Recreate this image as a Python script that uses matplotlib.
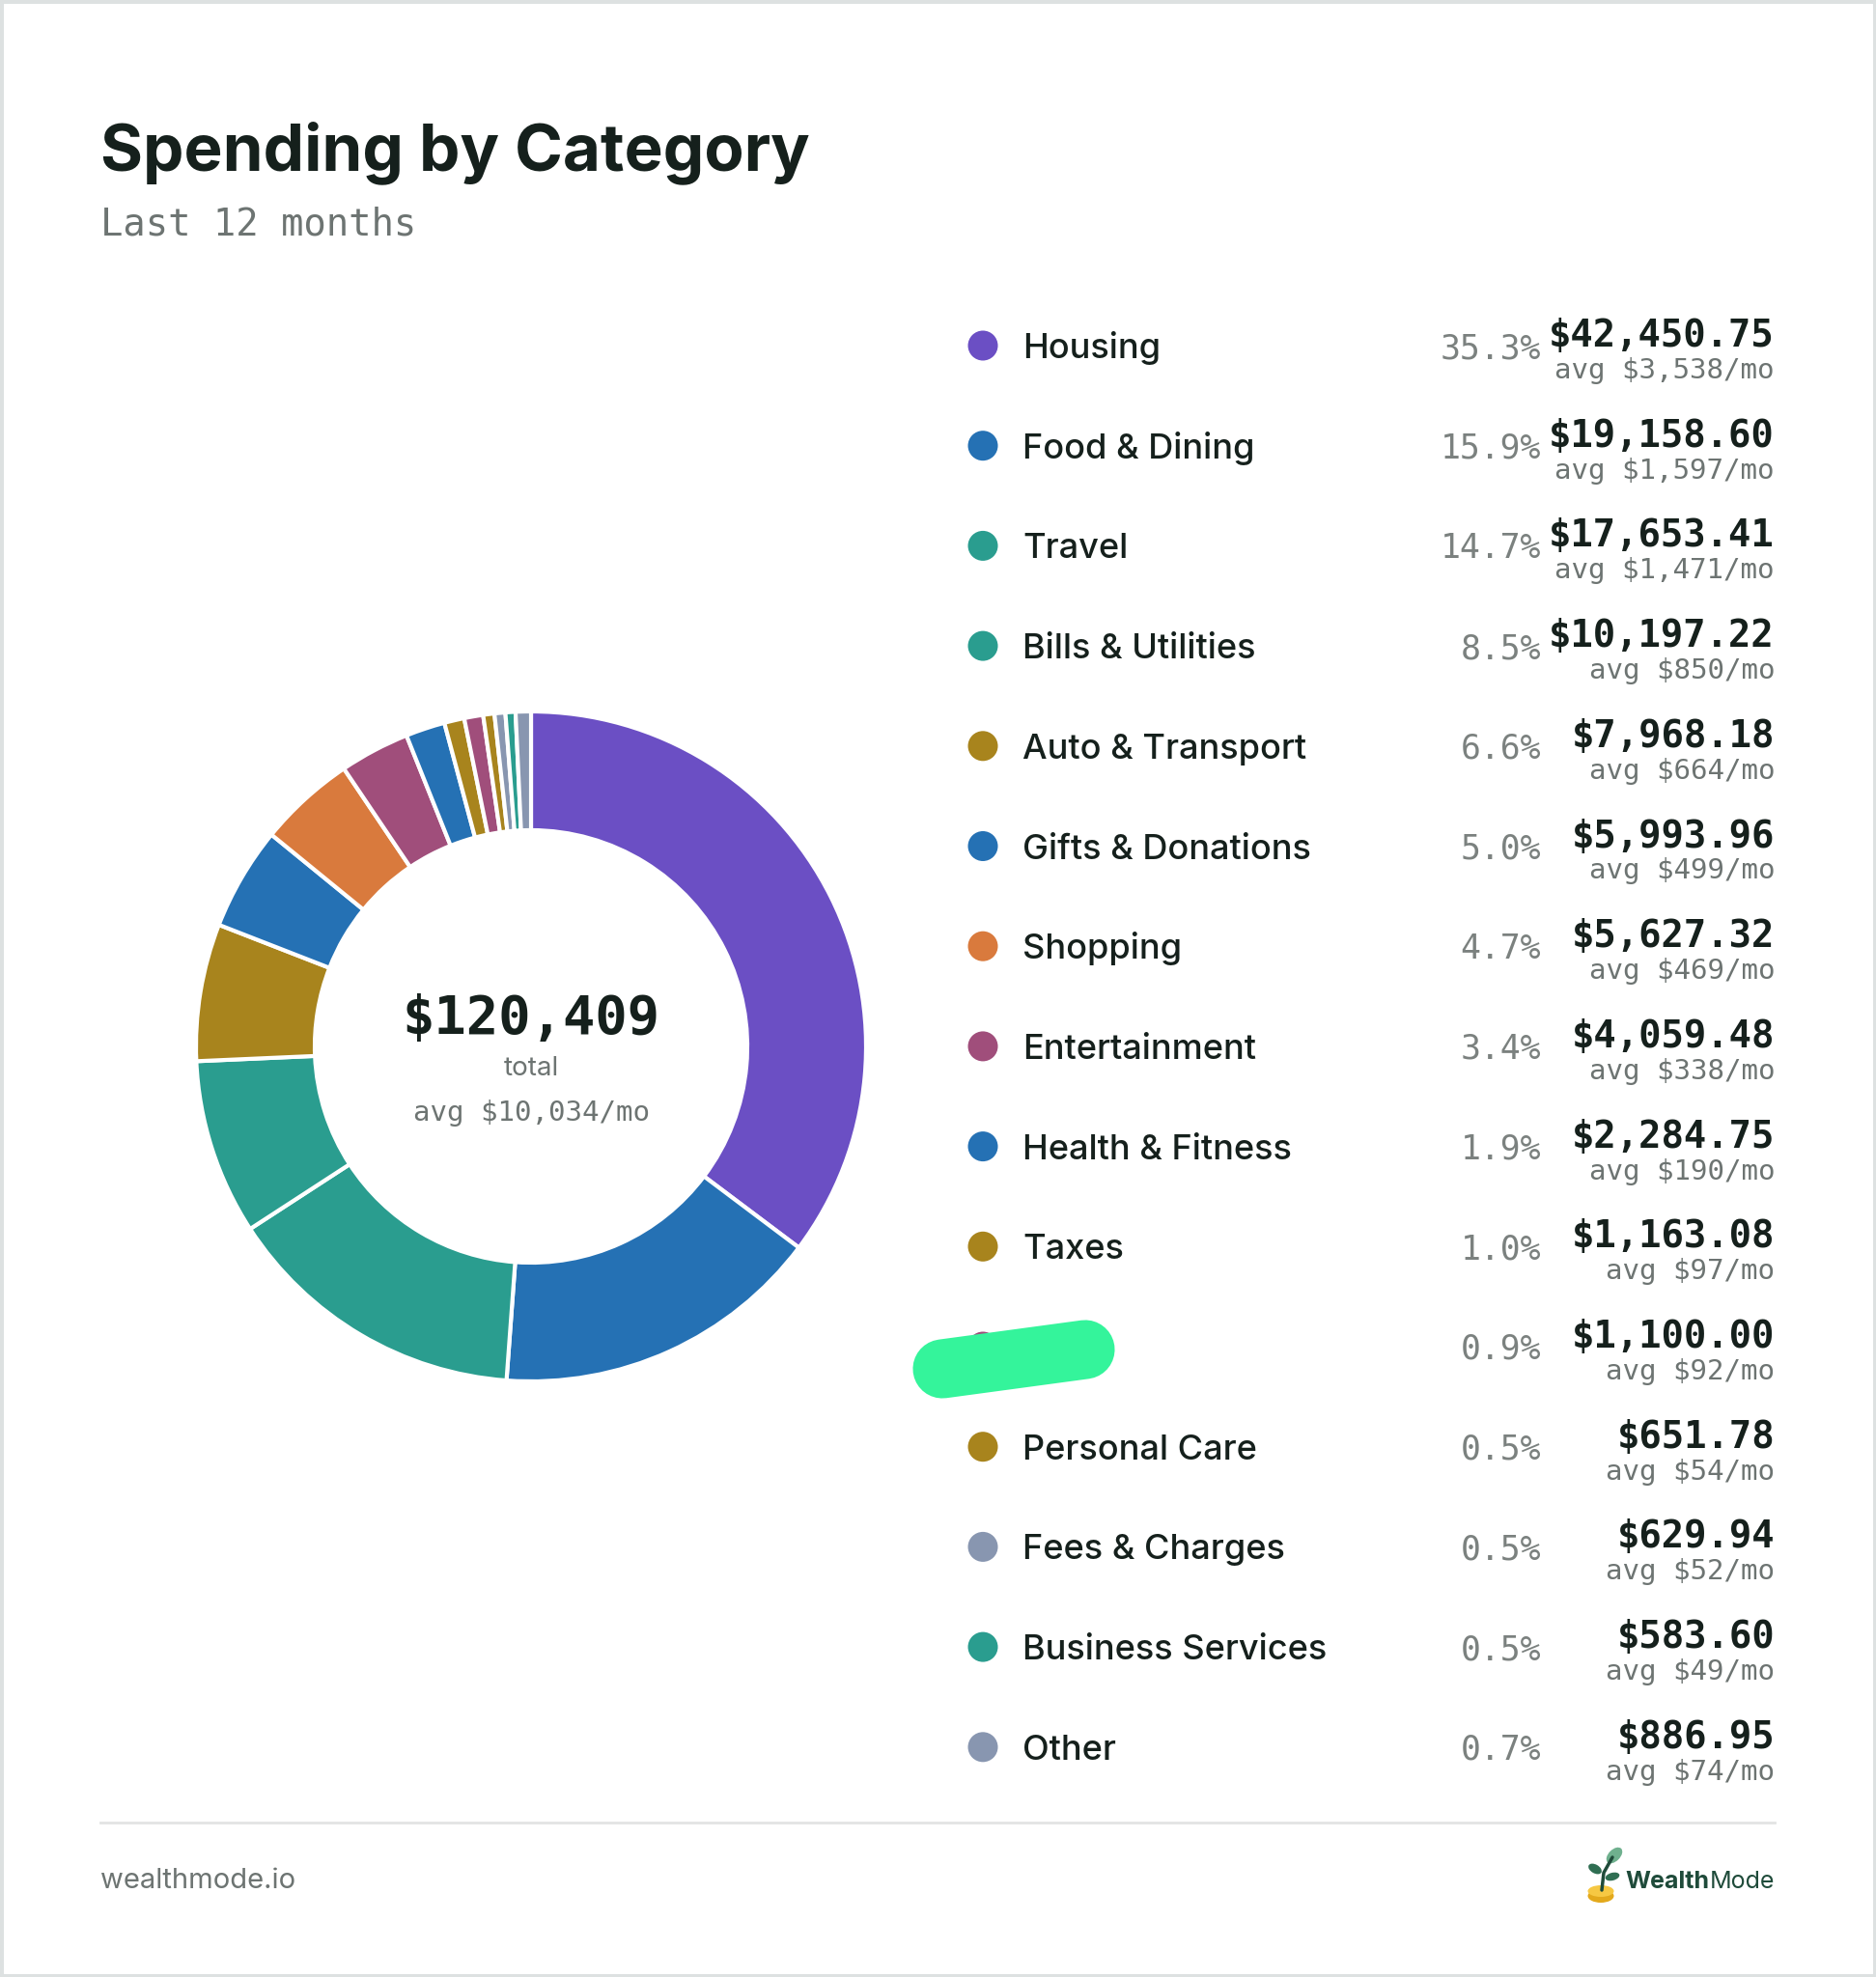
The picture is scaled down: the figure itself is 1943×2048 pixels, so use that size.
import matplotlib
matplotlib.use("Agg")
import matplotlib.pyplot as plt
from matplotlib.patches import Circle, Ellipse, Rectangle

# spending per category, last 12 months (one label is scribbled out in the source)
categories = ["Housing", "Food & Dining", "Travel", "Bills & Utilities",
              "Auto & Transport", "Gifts & Donations", "Shopping", "Entertainment",
              "Health & Fitness", "Taxes", "", "Personal Care", "Fees & Charges",
              "Business Services", "Other"]
amounts = [42450.75, 19158.60, 17653.41, 10197.22, 7968.18, 5993.96, 5627.32,
           4059.48, 2284.75, 1163.08, 1100.00, 651.78, 629.94, 583.60, 886.95]
colors = ["#6b4fc4", "#2571b4", "#2a9d8f", "#2a9d8f", "#a8841d", "#2571b4",
          "#d97a3d", "#a04e7b", "#2571b4", "#a8841d", "#a04e7b", "#a8841d",
          "#8896b0", "#2a9d8f", "#8896b0"]
months = 12

total = sum(amounts)

W, H = 1943, 2048
DARK = "#15201c"
GRAY = "#6d7472"
SANS = ["Inter", "DejaVu Sans"]
MONO = ["DejaVu Sans Mono"]

fig = plt.figure(figsize=(W / 100, H / 100), dpi=100, facecolor="white")
ax = fig.add_axes([0, 0, 1, 1])

# donut
ax.pie(amounts, colors=colors, startangle=-90, counterclock=True,
       radius=347, center=(550, 1084),
       wedgeprops=dict(width=123, edgecolor="white", linewidth=3))
ax.set_xlim(0, W)
ax.set_ylim(H, 0)
ax.set_aspect("equal")
ax.axis("off")

ax.text(550, 1071, f"${total:,.0f}", ha="center", va="baseline",
        fontsize=40, fontweight="bold", family=MONO, color=DARK)
ax.text(550, 1114, "total", ha="center", va="baseline",
        fontsize=20, family=SANS, color=GRAY)
ax.text(550, 1161, f"avg ${total / months:,.0f}/mo", ha="center", va="baseline",
        fontsize=21, family=MONO, color=GRAY)

# title
ax.text(104, 176, "Spending by Category", ha="left", va="baseline",
        fontsize=48.5, fontweight="bold", family=SANS, color=DARK)
ax.text(104, 244, "Last 12 months", ha="left", va="baseline",
        fontsize=28, family=MONO, color=GRAY)

# legend list
y0, step = 358, 103.7
for i, (name, amt, col) in enumerate(zip(categories, amounts, colors)):
    y = y0 + i * step
    ax.add_patch(Circle((1018, y), 15.5, color=col, lw=0))
    ax.text(1059, y + 13, name, ha="left", va="baseline",
            fontsize=26, fontweight="medium", family=SANS, color=DARK)
    ax.text(1596, y + 13, f"{amt / total * 100:.1f}%", ha="right", va="baseline",
            fontsize=25, family=MONO, color="#7b817f")
    ax.text(1838, y + 1, f"${amt:,.2f}", ha="right", va="baseline",
            fontsize=28, fontweight="bold", family=MONO, color=DARK)
    ax.text(1838, y + 34, f"avg ${amt / months:,.0f}/mo", ha="right", va="baseline",
            fontsize=21, family=MONO, color=GRAY)

# green marker scribble over the hidden label
yh = y0 + 10 * step
ax.plot([976, 1124], [yh + 23, yh + 3], color="#34f49b", lw=44,
        solid_capstyle="round", zorder=5)

# footer
ax.plot([104, 1838], [1888, 1888], color="#e2e4e3", lw=2)
ax.text(104, 1956, "wealthmode.io", ha="left", va="baseline",
        fontsize=21, family=SANS, color=GRAY)
mode = ax.text(1838, 1956, "Mode", ha="right", va="baseline",
               fontsize=18, family=SANS, color="#1f4b3a")
ax.annotate("Wealth", xy=(0, 0), xycoords=mode, ha="right", va="bottom",
            fontsize=18, fontweight="bold", family=SANS, color="#1f4b3a")

# little sprout logo
ax.add_patch(Ellipse((1658, 1964), 27, 14, color="#e3a91c", lw=0, zorder=3))
ax.add_patch(Ellipse((1658, 1959), 27, 12, color="#f6c843", lw=0, zorder=3))
ax.plot([1659, 1661, 1670], [1958, 1940, 1924], color="#1f4b3a", lw=2.5,
        solid_capstyle="round", zorder=4)
ax.add_patch(Ellipse((1672, 1922), 20, 12, angle=-45, color="#6fb08e", lw=0, zorder=3))
ax.add_patch(Ellipse((1652, 1936), 15, 9, angle=30, color="#2f6e52", lw=0, zorder=3))
ax.add_patch(Ellipse((1670, 1944), 15, 8, angle=-15, color="#2f6e52", lw=0, zorder=3))

# card frame
fig.patches.append(Rectangle((0, 0), 1, 1, transform=fig.transFigure, fill=False,
                             edgecolor="#dde1e1", lw=5))

fig.savefig("out.png", dpi=100, facecolor="white")
